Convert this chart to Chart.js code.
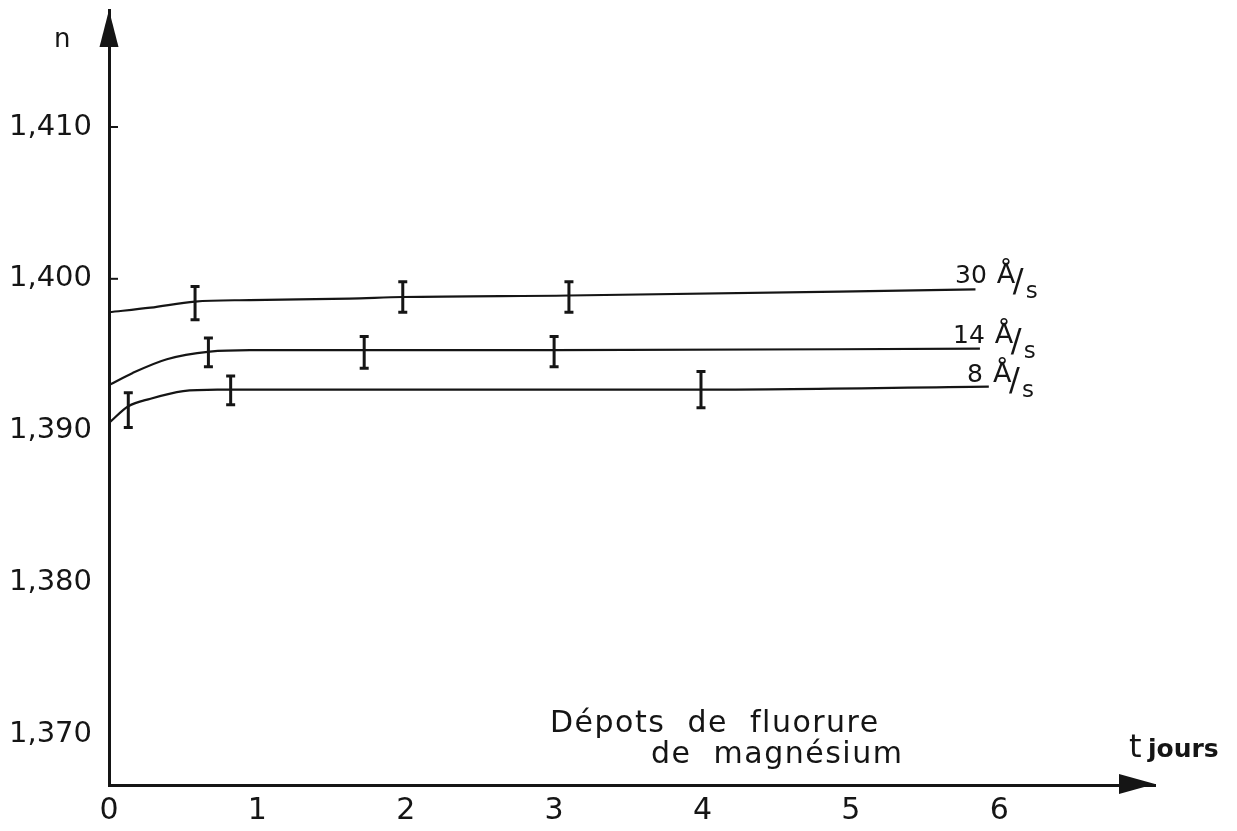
<!DOCTYPE html>
<html>
<head>
<meta charset="utf-8">
<title>Dépots de fluorure de magnésium</title>
<script src="https://cdn.jsdelivr.net/npm/chart.js@4.4.1/dist/chart.umd.min.js"></script>
<style>
  html, body { margin: 0; padding: 0; background: #fff; }
</style>
</head>
<body>
<canvas id="myChart" width="1237" height="831"></canvas>
<script>
// axes
const days = [0, 1, 2, 3, 4, 5, 6];
const yTicks = [1.37, 1.38, 1.39, 1.40, 1.41];
const yMarks = [1.40, 1.41];

// curves (t in days, n)
const t30 = [0, 0.28, 0.58, 0.95, 1.62, 1.98, 3.10, 5.84];
const n30 = [1.3978, 1.3981, 1.3985, 1.3986, 1.3987, 1.3988, 1.3989, 1.3993];
const t14 = [0, 0.16, 0.39, 0.68, 0.95, 3.0, 5.87];
const n14 = [1.3930, 1.3938, 1.3947, 1.3952, 1.3953, 1.3953, 1.3954];
const t8 = [0, 0.13, 0.28, 0.50, 0.73, 1.62, 3.98, 5.93];
const n8 = [1.3905, 1.3916, 1.3921, 1.3926, 1.3927, 1.3927, 1.3927, 1.3929];

// measured points with error bars
const err30T = [0.58, 1.98, 3.10];
const err30Lo = [1.3973, 1.3978, 1.3978];
const err30Hi = [1.3995, 1.3998, 1.3998];
const err14T = [0.67, 1.72, 3.0];
const err14Lo = [1.3942, 1.3941, 1.3942];
const err14Hi = [1.3961, 1.3962, 1.3962];
const err8T = [0.13, 0.82, 3.99];
const err8Lo = [1.3902, 1.3917, 1.3915];
const err8Hi = [1.3925, 1.3936, 1.3939];

const rates = ['30', '14', '8'];

const ink = '#151515';
const font = 'DejaVu Sans';

const pts = (ts, ns) => ts.map((t, i) => ({ x: t, y: ns[i] }));
const curve = (label, data) => ({
    label: label,
    data: data,
    borderColor: ink,
    borderWidth: 2.2,
    pointRadius: 0,
    fill: false,
    cubicInterpolationMode: 'monotone',
});

// error bars, arrows and hand lettering
const overlay = {
    id: 'overlay',
    afterDraw(chart) {
        const { ctx, chartArea: a, scales: { x, y } } = chart;
        ctx.save();
        ctx.fillStyle = ink;
        ctx.strokeStyle = ink;

        // error bars
        const bars = [[err30T, err30Lo, err30Hi], [err14T, err14Lo, err14Hi], [err8T, err8Lo, err8Hi]];
        ctx.lineWidth = 3;
        bars.forEach(([ts, lo, hi]) => {
            ts.forEach((t, i) => {
                const px = x.getPixelForValue(t);
                const y1 = y.getPixelForValue(hi[i]);
                const y2 = y.getPixelForValue(lo[i]);
                ctx.beginPath();
                ctx.moveTo(px, y1); ctx.lineTo(px, y2);
                ctx.moveTo(px - 4.5, y1); ctx.lineTo(px + 4.5, y1);
                ctx.moveTo(px - 4.5, y2); ctx.lineTo(px + 4.5, y2);
                ctx.stroke();
            });
        });

        // small tick marks on y axis
        ctx.lineWidth = 2;
        yMarks.forEach(v => {
            const py = y.getPixelForValue(v);
            ctx.beginPath();
            ctx.moveTo(a.left, py); ctx.lineTo(a.left + 9, py);
            ctx.stroke();
        });

        // arrow heads
        ctx.beginPath();
        ctx.moveTo(a.left, a.top);
        ctx.lineTo(a.left - 9.5, a.top + 37);
        ctx.lineTo(a.left + 9.5, a.top + 37);
        ctx.closePath();
        ctx.fill();
        ctx.beginPath();
        ctx.moveTo(a.right, a.bottom - 1);
        ctx.lineTo(a.right - 36, a.bottom - 11);
        ctx.lineTo(a.right - 36, a.bottom + 9);
        ctx.closePath();
        ctx.fill();

        // axis titles
        ctx.textBaseline = 'alphabetic';
        ctx.textAlign = 'left';
        ctx.font = '26px "' + font + '"';
        ctx.fillText('n', 54, 47);
        ctx.font = '32px "' + font + '"';
        ctx.fillText('t', 1129, 757);
        ctx.font = 'bold 25px "' + font + '"';
        ctx.fillText('jours', 1148, 757);

        // annotation
        ctx.font = '30px "' + font + '"';
        ctx.letterSpacing = '1.5px';
        ctx.fillText('Dépots  de  fluorure', 550, 732);
        ctx.fillText('de  magnésium', 651, 763);
        ctx.letterSpacing = '0px';

        // rate labels at the end of each curve
        const labelPos = [[955, 283], [953, 343], [967, 382]];
        rates.forEach((r, i) => {
            const [lx, ly] = labelPos[i];
            ctx.font = '25px "' + font + '"';
            ctx.fillText(r, lx, ly);
            const w = ctx.measureText(r).width;
            const ax = lx + w + 10;
            ctx.font = '27px "' + font + '"';
            ctx.fillText('Å', ax, ly);
            ctx.font = '32px "' + font + '"';
            ctx.fillText('/', ax + 16, ly + 8);
            ctx.font = '23px "' + font + '"';
            ctx.fillText('s', ax + 29, ly + 15);
        });

        ctx.restore();
    }
};

const ctx = document.getElementById('myChart').getContext('2d');
const myChart = new Chart(ctx, {
    type: 'line',
    data: {
        datasets: [
            curve('30 Å/s', pts(t30, n30)),
            curve('14 Å/s', pts(t14, n14)),
            curve('8 Å/s', pts(t8, n8)),
        ],
    },
    options: {
        responsive: false,
        animation: false,
        layout: { padding: { left: 0, right: 82, top: 10, bottom: 0 } },
        plugins: {
            legend: { display: false },
            tooltip: { enabled: false },
        },
        scales: {
            x: {
                type: 'linear',
                min: 0,
                max: 7.05,
                afterFit: s => { s.height = 46; s.paddingLeft = 0; s.paddingRight = 0; },
                afterBuildTicks: s => { s.ticks = days.map(v => ({ value: v })); },
                grid: { display: false, drawTicks: false },
                border: { display: true, width: 3, color: ink },
                ticks: {
                    font: { family: font, size: 30 },
                    color: ink,
                    padding: 8,
                    maxRotation: 0,
                    autoSkip: false,
                    callback: v => String(v),
                },
            },
            y: {
                type: 'linear',
                min: 1.36665,
                max: 1.41771,
                afterFit: s => { s.width = 109; s.paddingTop = 0; s.paddingBottom = 0; },
                afterBuildTicks: s => { s.ticks = yTicks.map(v => ({ value: v })); },
                grid: { display: false, drawTicks: false },
                border: { display: true, width: 3, color: ink },
                ticks: {
                    font: { family: font, size: 29 },
                    color: ink,
                    padding: 17,
                    callback: v => v.toFixed(3).replace('.', ','),
                },
            },
        },
    },
    plugins: [overlay],
});
</script>
</body>
</html>
